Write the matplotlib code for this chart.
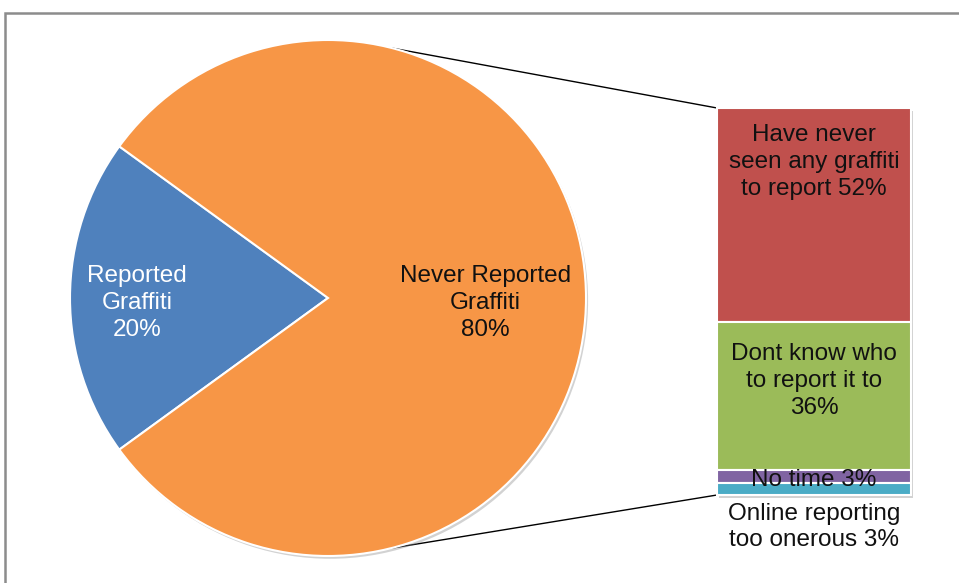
import numpy as np
import matplotlib
matplotlib.use('Agg')
import matplotlib.pyplot as plt
import matplotlib.patheffects as pe
from matplotlib.patches import Rectangle

plt.rcParams['font.family'] = ['Liberation Sans', 'DejaVu Sans']

# main split
pie_labels = ['Reported\nGraffiti', 'Never Reported\nGraffiti']
pie_values = [20, 80]
pie_colors = ['#4F81BD', '#F79646']

# reasons for never reporting, stacked top to bottom
bar_labels = ['Have never\nseen any graffiti\nto report', 'Dont know who\nto report it to',
              'No time', 'Online reporting\ntoo onerous']
bar_values = [52, 36, 3, 3]
bar_colors = ['#C0504D', '#9BBB59', '#8064A2', '#4BACC6']
bar_seps = [' ', '\n', ' ', ' ']

W, H = 959, 583
FS = 17.5
LS = 1.27
fig = plt.figure(figsize=(W / 100, H / 100), dpi=100)
ax = fig.add_axes([0, 0, 1, 1])

# pie geometry (pixel units, y up)
cx, cy, r = 328, H - 298, 258
start = 180 - pie_values[0] * 3.6 / 2

shadow = [pe.SimplePatchShadow(offset=(1.5, -2), shadow_rgbFace='#808080', alpha=0.35), pe.Normal()]

wedges, _ = ax.pie(pie_values, colors=pie_colors, startangle=start, center=(cx, cy), radius=r,
                   wedgeprops=dict(edgecolor='white', linewidth=1.5))
for w in wedges:
    w.set_path_effects(shadow)
    w.set_zorder(2)

# pie labels at the wedge middles
label_dist = [0.74, 0.61]
label_cols = ['white', '#111111']
angle = start
for lab, v, d, c in zip(pie_labels, pie_values, label_dist, label_cols):
    mid = np.radians(angle + v * 3.6 / 2)
    ax.text(cx + d * r * np.cos(mid), cy + d * r * np.sin(mid) - 5, '%s\n%d%%' % (lab, v),
            ha='center', va='center', fontsize=FS, color=c, linespacing=LS, zorder=5)
    angle += v * 3.6

# stacked bar for the breakdown
bx, bw = 717, 194
btop = H - 108
scale = 387 / sum(bar_values)
tops = btop - scale * np.concatenate([[0], np.cumsum(bar_values)[:-1]])
heights = scale * np.array(bar_values)
bars = ax.bar([bx + bw / 2] * len(bar_values), heights, width=bw, bottom=tops - heights,
              color=bar_colors, edgecolor='white', linewidth=1.5, zorder=2)
for b in bars:
    b.set_path_effects(shadow)
bbot = tops[-1] - heights[-1]

for i, (lab, v, sep) in enumerate(zip(bar_labels, bar_values, bar_seps)):
    txt = '%s%s%d%%' % (lab, sep, v)
    if i == 0:
        y = tops[i] - 54
    elif i == 1:
        y = tops[i] - 59
    elif i == 2:
        y = tops[i] - heights[i] / 2 - 4
    else:
        y = bbot - 32
    ax.text(bx + bw / 2, y, txt, ha='center', va='center', fontsize=FS,
            color='#111111', linespacing=LS, zorder=5)

# connector lines from the pie to the bar
for a, ty in [(75.5, btop), (-76, bbot)]:
    t = np.radians(a)
    ax.plot([cx + r * np.cos(t), bx], [cy + r * np.sin(t), ty], color='black', lw=1, zorder=1)

# chart border
ax.add_patch(Rectangle((5, -20), W + 50, H - 13 + 20, fill=False, edgecolor='#8c8c8c', lw=1.8, zorder=0))

ax.set_xlim(0, W)
ax.set_ylim(0, H)
ax.set_aspect('equal')
ax.axis('off')

fig.savefig('out.png', dpi=100)
